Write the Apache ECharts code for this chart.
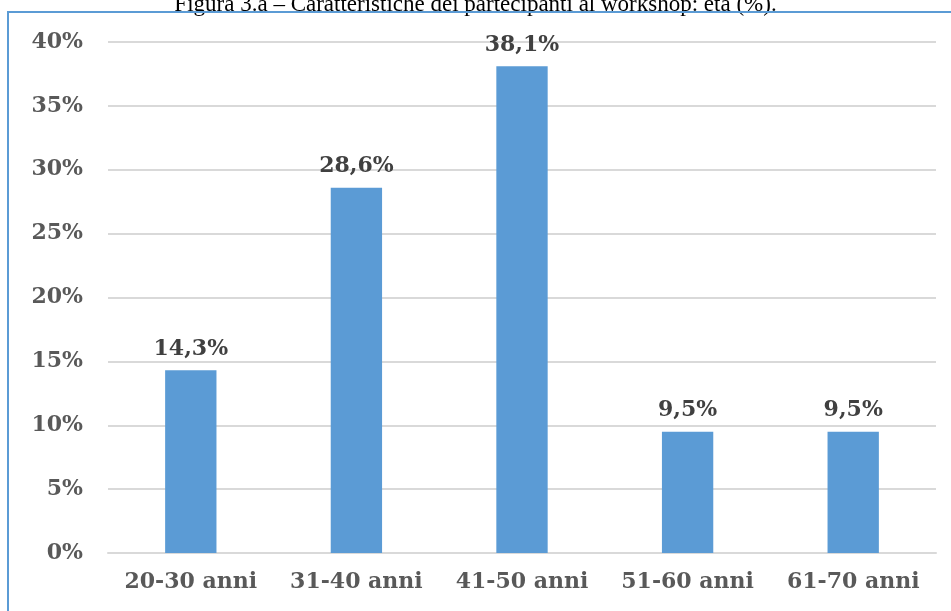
<!DOCTYPE html>
<html><head><meta charset="utf-8">
<script src="https://cdn.jsdelivr.net/npm/echarts@6/dist/echarts.min.js"></script>
<style>html,body{margin:0;padding:0;background:#fff}#c{width:951px;height:611px}</style>
</head><body><div id="c"></div>
<script>
const categories = ['20-30 anni','31-40 anni','41-50 anni','51-60 anni','61-70 anni'];
const values = [14.3, 28.6, 38.1, 9.5, 9.5];
const titleText = 'Figura 3.a – Caratteristiche dei partecipanti al workshop: età (%).';
const FONT = 'DejaVu Serif';
const chart = echarts.init(document.getElementById('c'));
chart.setOption({
  animation: false,
  title: {text: titleText, left: 'center', top: -12, textStyle: {fontFamily: 'Liberation Serif', fontSize: 23, fontWeight: 'normal', color: '#000'}},
  graphic: [{type: 'rect', shape: {x: 8, y: 12, width: 1100, height: 800}, style: {fill: 'none', stroke: '#5B9BD5', lineWidth: 2}, z: 10}],
  grid: {left: 108, right: 15, top: 42, bottom: 58},
  xAxis: {type: 'category', data: categories,
    axisLine: {lineStyle: {color: '#D9D9D9', width: 2}}, axisTick: {show: false},
    axisLabel: {interval: 0, fontFamily: FONT, fontWeight: 'bold', fontSize: 22, color: '#595959', margin: 18}},
  yAxis: {type: 'value', min: 0, max: 40, interval: 5,
    axisLine: {show: false}, axisTick: {show: false},
    splitLine: {lineStyle: {color: '#D9D9D9', width: 2}},
    axisLabel: {formatter: '{value}%', fontFamily: FONT, fontWeight: 'bold', fontSize: 22, color: '#595959', margin: 25}},
  series: [{type: 'bar', data: values, barWidth: '31%', itemStyle: {color: '#5B9BD5'},
    label: {show: true, position: 'top', distance: 10, fontFamily: FONT, fontWeight: 'bold', fontSize: 22, color: '#404040',
      formatter: p => p.value.toFixed(1).replace('.', ',') + '%'}}]
});
</script></body></html>
